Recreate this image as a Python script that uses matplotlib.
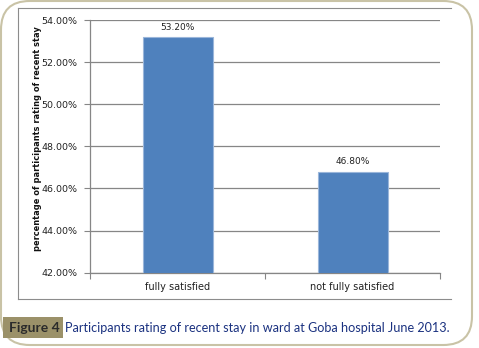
import matplotlib.pyplot as plt
from matplotlib.patches import FancyBboxPatch, Rectangle
from matplotlib.lines import Line2D

categories = ["fully satisfied", "not fully satisfied"]
values = [53.2, 46.8]
y_ticks = [42, 44, 46, 48, 50, 52, 54]

W, H = 479, 348
fig = plt.figure(figsize=(W / 100, H / 100), dpi=100)
fig.patch.set_facecolor("white")


def fx(px):
    return px / W


def fy(py):
    return 1 - py / H


# outer rounded frame
frame = FancyBboxPatch((fx(1), fy(345)), fx(471), 344 / H,
                       boxstyle="round,pad=0,rounding_size=0.06",
                       transform=fig.transFigure, facecolor="none",
                       edgecolor="#c9c3a6", linewidth=1.5, mutation_aspect=W / H)
fig.add_artist(frame)

# inner chart box
for xs, ys in [((18, 451), (8, 8)), ((18, 18), (8, 299)), ((18, 451), (299, 299))]:
    fig.add_artist(Line2D([fx(x) for x in xs], [fy(y) for y in ys],
                          transform=fig.transFigure, color="#8c8c8c", lw=0.8))

ax = fig.add_axes([fx(90), fy(272.7), fx(350), 252.7 / H])
x = list(range(len(categories)))
bars = ax.bar(x, values, width=0.4, color="#4f81bd", edgecolor="#9ab6da", linewidth=0.8,
              zorder=3)
ax.set_xlim(-0.5, 1.5)
ax.set_ylim(42, 54)
ax.set_yticks(y_ticks)
ax.set_yticklabels([f"{v:.2f}%" for v in y_ticks], fontsize=6.8, color="#222222")
ax.yaxis.grid(True, color="#868686", linewidth=0.9, zorder=0)
ax.set_xticks([-0.5, 0.5, 1.5])
ax.set_xticklabels([])
ax.set_xticks(x, minor=True)
ax.set_xticklabels(categories, minor=True, fontsize=7, color="#222222")
ax.tick_params(axis="x", which="minor", length=0, pad=7)
ax.tick_params(axis="x", which="major", length=4, color="#868686")
ax.tick_params(axis="y", length=4, color="#868686", pad=5)
for s in ["top", "right"]:
    ax.spines[s].set_visible(False)
for s in ["left", "bottom"]:
    ax.spines[s].set_color("#868686")
    ax.spines[s].set_linewidth(0.9)

for b, v in zip(bars, values):
    ax.text(b.get_x() + b.get_width() / 2, v + 0.25, f"{v:.2f}%",
            ha="center", va="bottom", fontsize=6.5, color="#222222")

fig.text(fx(38), fy(139), "percentage of participants rating of recent stay",
         rotation=90, ha="center", va="center", fontsize=5.95, fontweight="bold",
         color="#111111")

# caption
fig.add_artist(Rectangle((fx(3), fy(338)), fx(60), 21 / H, transform=fig.transFigure,
                         facecolor="#9b9169", edgecolor="none"))
fig.text(fx(9), fy(327.5), "Figure 4", ha="left", va="center", fontsize=10,
         fontweight="bold", color="#2b2b2b", family="Lato")
fig.text(fx(65), fy(327.5), "Participants rating of recent stay in ward at Goba hospital June 2013.",
         ha="left", va="center", fontsize=9.1, color="#1b3280", family="Lato")

fig.savefig("out.png", dpi=100)
